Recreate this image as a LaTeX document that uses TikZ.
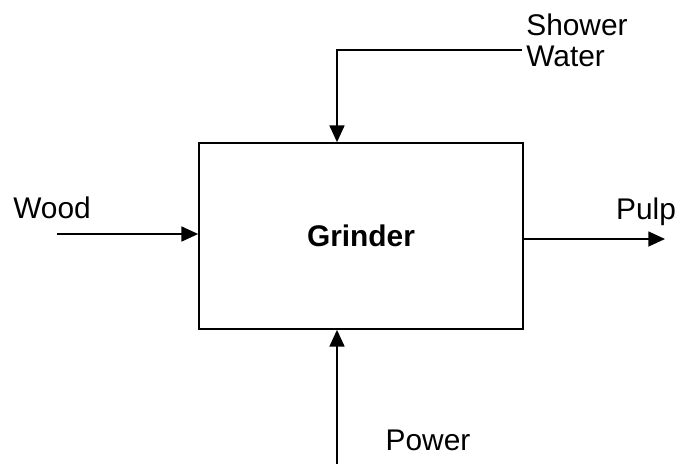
\documentclass[tikz,border=0pt]{standalone}
\usepackage{fontspec}
\setmainfont{Liberation Sans}
\usetikzlibrary{positioning,arrows.meta}
\tikzset{
  unitbox/.style={draw, line width=1pt, minimum width=6.48cm, minimum height=3.72cm,
    font=\fontsize{17}{20}\selectfont\bfseries},
  flowarrow/.style={-{Triangle[length=9.5pt, width=8.5pt]}, line width=1pt},
  flowlabel/.style={font=\fontsize{17}{17.6}\selectfont, align=left, inner sep=0pt},
}

\begin{document}
\begin{tikzpicture}[x=0.02cm, y=-0.02cm]
  \useasboundingbox (0,0) rectangle (683,464);
  \node[unitbox] (grinder) at (361,236) {Grinder};
  % free ends of the streams
  \coordinate (woodin) at (57,234);
  \coordinate (pulpout) at (665,239);
  \coordinate (waterin) at (522,50);
  \coordinate (powerin) at (337,464);
  \draw[flowarrow] (woodin) -- (woodin -| grinder.west);
  \draw[flowarrow] (pulpout -| grinder.east) -- (pulpout);
  \draw[flowarrow] (waterin) -| (powerin |- grinder.north);
  \draw[flowarrow] (powerin) -- (powerin |- grinder.south);
  % stream names
  \node[flowlabel] (woodlbl) at (52,208) {Wood};
  \node[flowlabel] (pulplbl) at (646,212) {Pulp};
  \node[flowlabel, anchor=west] (waterlbl) at (526,40) {Shower\\Water};
  \node[flowlabel] (powerlbl) at (428,440) {Power};
\end{tikzpicture}
\end{document}
